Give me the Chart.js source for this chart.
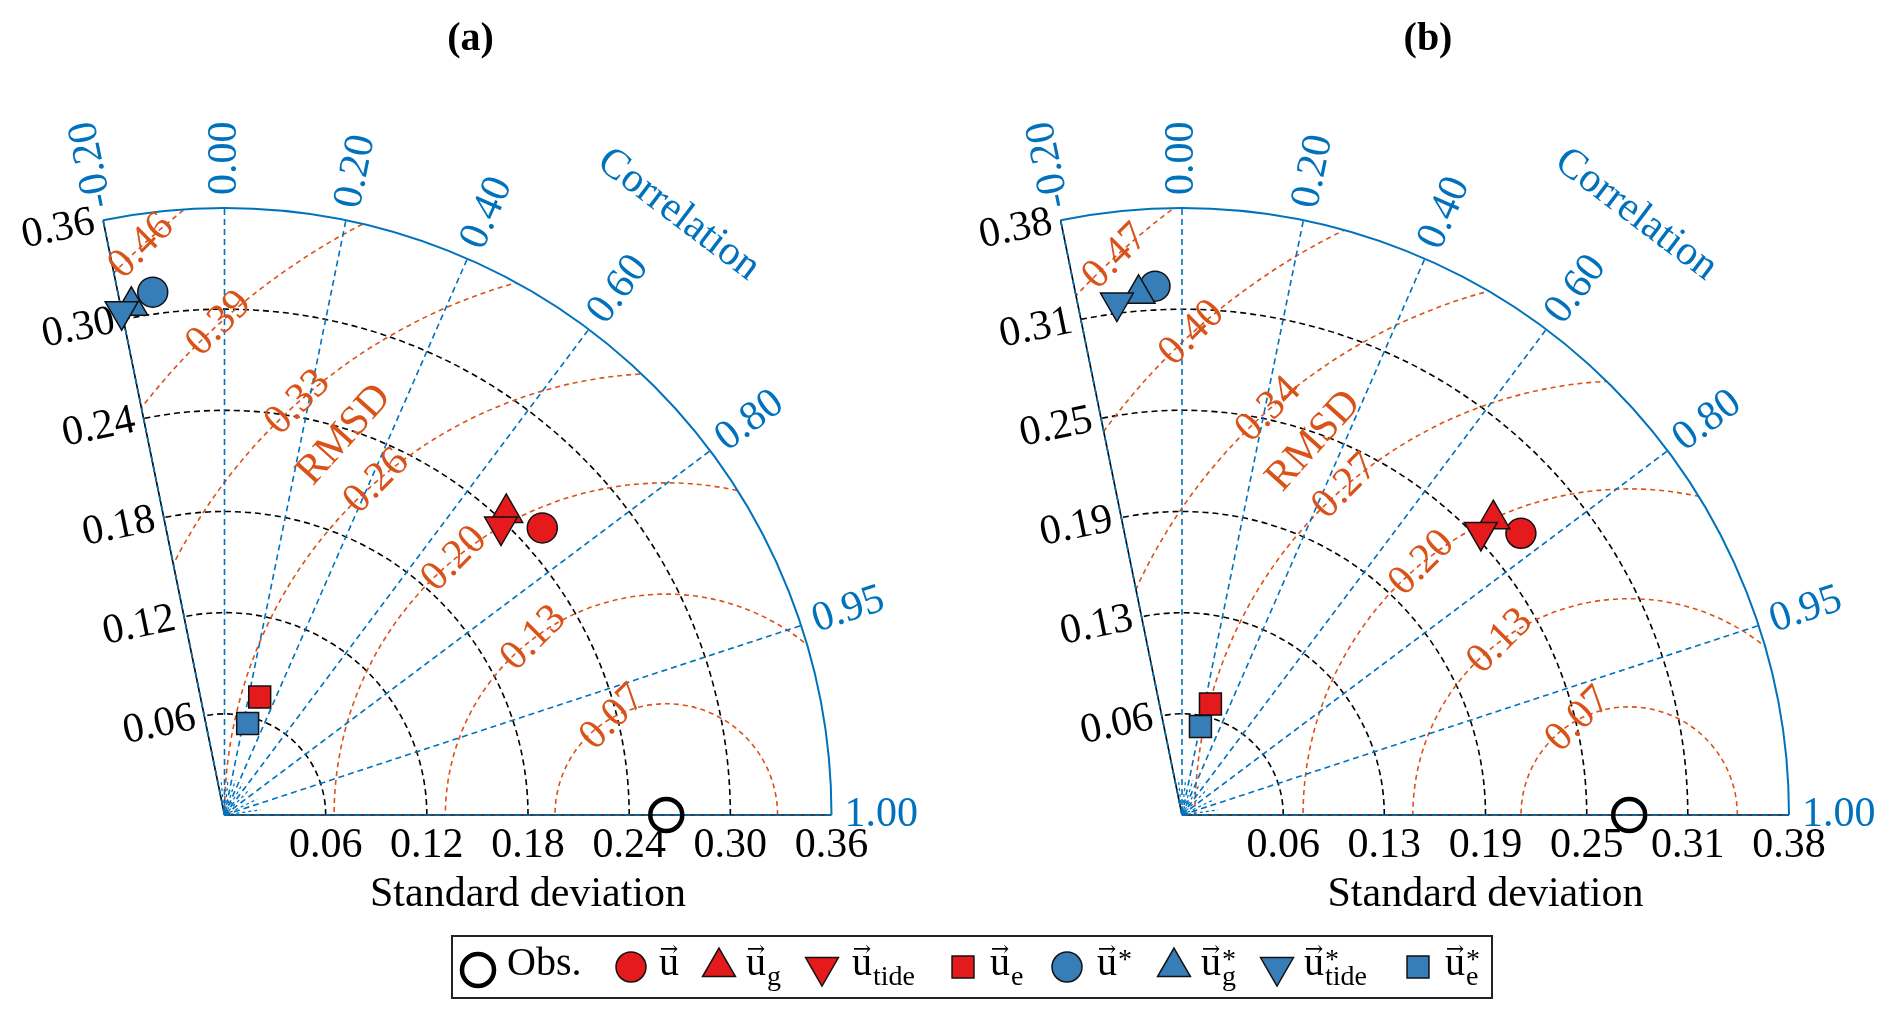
<!DOCTYPE html>
<html><head><meta charset="utf-8">
<script src="https://cdn.jsdelivr.net/npm/chart.js@4.4.1/dist/chart.umd.min.js"></script>
<style>html,body{margin:0;padding:0;background:#fff;overflow:hidden}#wrap{position:relative;width:1892px;height:1018px}</style>
</head><body><div id="wrap"><canvas id="c"></canvas></div>
<script>
// ---------------- data ----------------
const seriesNames = ['Obs.', 'u', 'u_g', 'u_tide', 'u_e', 'u*', 'u_g*', 'u_tide*', 'u_e*'];
// panel (a)
const stdA  = [0.262, 0.254, 0.245, 0.237, 0.073, 0.313, 0.307, 0.305, 0.056];
const corrA = [1.000, 0.742, 0.682, 0.692, 0.286, -0.136, -0.180, -0.200, 0.245];
// panel (b)
const stdB  = [0.277, 0.273, 0.266, 0.255, 0.071, 0.328, 0.324, 0.320, 0.056];
const corrB = [1.000, 0.769, 0.725, 0.726, 0.248, -0.051, -0.083, -0.126, 0.204];
// axes / tick labels
const stdTicksA  = [0.06, 0.12, 0.18, 0.24, 0.30, 0.36];
const stdLabelsA = ['0.06', '0.12', '0.18', '0.24', '0.30', '0.36'];
const stdTicksB  = [0.0627, 0.1253, 0.188, 0.2507, 0.3133, 0.376];
const stdLabelsB = ['0.06', '0.13', '0.19', '0.25', '0.31', '0.38'];
const corrTicks  = [-0.2, 0.0, 0.2, 0.4, 0.6, 0.8, 0.95, 1.0];
const corrLabels = ['-0.20', '0.00', '0.20', '0.40', '0.60', '0.80', '0.95', '1.00'];
const corrMinor  = [-0.1, 0.1, 0.3, 0.5, 0.7, 0.9, 0.99];
const rmsdA       = [0.066, 0.131, 0.197, 0.262, 0.328, 0.394, 0.459];
const rmsdLabelsA = ['0.07', '0.13', '0.20', '0.26', '0.33', '0.39', '0.46'];
const rmsdB       = [0.067, 0.134, 0.202, 0.269, 0.336, 0.403, 0.470];
const rmsdLabelsB = ['0.07', '0.13', '0.20', '0.27', '0.34', '0.40', '0.47'];
// legend text parts
const legendBase = ['Obs.', 'u', 'u', 'u', 'u', 'u', 'u', 'u', 'u'];
const legendSub  = ['', '', 'g', 'tide', 'e', '', 'g', 'tide', 'e'];
const legendSup  = ['', '', '', '', '', '*', '*', '*', '*'];

// ---------------- styles / layout ----------------
const W = 1892, H = 1018;
const RED = '#E41A1C', BLUE = '#377EB8', CBLUE = '#0072BD', ORANGE = '#D95319';
const SERIF = '"Liberation Serif", "Times New Roman", serif';
const markerStyle = [
  {ps:'circle',   rot:0,   r:16,   bg:'rgba(0,0,0,0)', bc:'#000', bw:4.5},
  {ps:'circle',   rot:0,   r:15,   bg:RED,  bc:'#111', bw:1.5},
  {ps:'triangle', rot:0,   r:19,   bg:RED,  bc:'#111', bw:1.5},
  {ps:'triangle', rot:180, r:19,   bg:RED,  bc:'#111', bw:1.5},
  {ps:'rect',     rot:0,   r:15.5, bg:RED,  bc:'#111', bw:1.5},
  {ps:'circle',   rot:0,   r:15,   bg:BLUE, bc:'#111', bw:1.5},
  {ps:'triangle', rot:0,   r:19,   bg:BLUE, bc:'#111', bw:1.5},
  {ps:'triangle', rot:180, r:19,   bg:BLUE, bc:'#111', bw:1.5},
  {ps:'rect',     rot:0,   r:15.5, bg:BLUE, bc:'#111', bw:1.5}
];
const panels = [
  {title:'(a)', ox:224.5, oy:815, rpx:607, xId:'xa', yId:'ya', std:stdA, corr:corrA,
   ticks:stdTicksA, tickLabels:stdLabelsA, rmsd:rmsdA, rmsdLabels:rmsdLabelsA},
  {title:'(b)', ox:1182, oy:815, rpx:607, xId:'xb', yId:'yb', std:stdB, corr:corrB,
   ticks:stdTicksB, tickLabels:stdLabelsB, rmsd:rmsdB, rmsdLabels:rmsdLabelsB}
];

// scales so that each panel origin/radius lands at its layout position
const scales = {};
panels.forEach(P => {
  const rmax = P.ticks[P.ticks.length - 1];
  const u = P.rpx / rmax;
  scales[P.xId] = {type:'linear', axis:'x', position:'bottom', display:false, min:-P.ox / u, max:(W - P.ox) / u};
  scales[P.yId] = {type:'linear', axis:'y', position:'left', display:false, min:-(H - P.oy) / u, max:P.oy / u};
});

const datasets = [];
panels.forEach(P => {
  P.std.forEach((s, i) => {
    const c = P.corr[i], st = markerStyle[i];
    datasets.push({
      label: seriesNames[i], xAxisID: P.xId, yAxisID: P.yId,
      data: [{x: s * c, y: s * Math.sqrt(Math.max(0, 1 - c * c))}],
      pointStyle: st.ps, pointRotation: st.rot, rotation: st.rot, pointRadius: st.r,
      pointBackgroundColor: st.bg, pointBorderColor: st.bc, pointBorderWidth: st.bw,
      showLine: false, clip: false, order: 20 - i
    });
  });
});

function rtext(ctx, txt, x, y, ang, align, base) {
  ctx.save(); ctx.translate(x, y); ctx.rotate(ang);
  ctx.textAlign = align; ctx.textBaseline = base; ctx.fillText(txt, 0, 0); ctx.restore();
}

function drawPanel(chart, ctx, P) {
  const xs = chart.scales[P.xId], ys = chart.scales[P.yId];
  const rmax = P.ticks[P.ticks.length - 1];
  const Ox = xs.getPixelForValue(0), Oy = ys.getPixelForValue(0);
  const R = xs.getPixelForValue(rmax) - Ox;
  const unit = R / rmax;
  const thMax = Math.acos(corrTicks[0]);
  const pol = (r, th) => [xs.getPixelForValue(r * Math.cos(th)), ys.getPixelForValue(r * Math.sin(th))];
  const obs = P.std[0] * P.corr[0];
  const obsX = xs.getPixelForValue(obs), obsY = ys.getPixelForValue(0);

  ctx.save();
  ctx.lineWidth = 1.6;
  // std arcs
  ctx.strokeStyle = '#000'; ctx.setLineDash([6, 4]);
  P.ticks.slice(0, -1).forEach(t => {
    ctx.beginPath(); ctx.arc(Ox, Oy, t * unit, 0, -thMax, true); ctx.stroke();
  });
  // rmsd arcs (clipped to sector)
  ctx.save();
  ctx.beginPath(); ctx.moveTo(Ox, Oy); ctx.arc(Ox, Oy, R, 0, -thMax, true); ctx.closePath(); ctx.clip();
  ctx.strokeStyle = ORANGE; ctx.setLineDash([5, 4]);
  P.rmsd.forEach(r => {
    ctx.beginPath(); ctx.arc(obsX, obsY, r * unit, 0, -Math.PI, true); ctx.stroke();
  });
  ctx.restore();
  // left edge and x axis base lines
  ctx.setLineDash([]); ctx.strokeStyle = '#000'; ctx.lineWidth = 1.6;
  let e = pol(rmax, thMax);
  ctx.beginPath(); ctx.moveTo(Ox, Oy); ctx.lineTo(e[0], e[1]); ctx.stroke();
  ctx.beginPath(); ctx.moveTo(Ox, Oy); ctx.lineTo(Ox + R, Oy); ctx.stroke();
  // correlation lines
  ctx.strokeStyle = CBLUE; ctx.setLineDash([6, 4]); ctx.lineWidth = 1.6;
  corrTicks.forEach(c => {
    const th = Math.acos(c), p = pol(rmax, th);
    ctx.beginPath(); ctx.moveTo(Ox, Oy); ctx.lineTo(p[0], p[1]); ctx.stroke();
  });
  ctx.setLineDash([3, 3]); ctx.lineWidth = 1.2;
  corrMinor.forEach(c => {
    const th = Math.acos(c), p = pol(rmax * 0.06, th);
    ctx.beginPath(); ctx.moveTo(Ox, Oy); ctx.lineTo(p[0], p[1]); ctx.stroke();
  });
  // outer arc
  ctx.setLineDash([]); ctx.lineWidth = 2;
  ctx.beginPath(); ctx.arc(Ox, Oy, R, 0, -thMax, true); ctx.stroke();
  ctx.restore();

  // ---- labels ----
  ctx.save();
  ctx.font = '42px ' + SERIF;
  // x tick labels
  ctx.fillStyle = '#000';
  P.ticks.forEach((t, i) => rtext(ctx, P.tickLabels[i], xs.getPixelForValue(t), Oy + 42, 0, 'center', 'alphabetic'));
  // left edge tick labels
  const nx = -Math.sin(thMax), ny = -Math.cos(thMax); // screen outward normal
  const ang = Math.atan2(-ny, -nx);
  P.ticks.forEach((t, i) => {
    const p = pol(t, thMax);
    rtext(ctx, P.tickLabels[i], p[0] + 9 * nx, p[1] + 9 * ny, ang, 'right', 'middle');
  });
  // axis title
  rtext(ctx, 'Standard deviation', Ox + R / 2, Oy + 91, 0, 'center', 'alphabetic');
  // panel title
  ctx.font = 'bold 40px ' + SERIF;
  rtext(ctx, P.title, Ox + 246, 50, 0, 'center', 'alphabetic');
  // correlation labels
  ctx.font = '42px ' + SERIF;
  ctx.fillStyle = CBLUE;
  corrTicks.forEach((c, i) => {
    const th = Math.acos(c);
    const x = Ox + (R + 13) * Math.cos(th), y = Oy - (R + 13) * Math.sin(th);
    rtext(ctx, corrLabels[i], x, y, -th, 'left', 'middle');
  });
  {
    const th = 52.9 * Math.PI / 180, rr = R * 1.24;
    rtext(ctx, 'Correlation', Ox + rr * Math.cos(th), Oy - rr * Math.sin(th), Math.PI / 2 - th, 'center', 'middle');
  }
  // rmsd labels along the line x + y = 1.1*obs
  ctx.fillStyle = ORANGE;
  const d = 0.1 * obs;
  const onLine = r => { const u = (d - Math.sqrt(2 * r * r - d * d)) / 2; return [obs + u, d - u]; };
  P.rmsd.forEach((r, i) => {
    const q = onLine(r);
    rtext(ctx, P.rmsdLabels[i], xs.getPixelForValue(q[0]), ys.getPixelForValue(q[1]), -Math.PI / 4, 'center', 'middle');
  });
  {
    const q = onLine((P.rmsd[3] + P.rmsd[4]) / 2);
    rtext(ctx, 'RMSD', xs.getPixelForValue(q[0]) + 7, ys.getPixelForValue(q[1]) - 7, -48 * Math.PI / 180, 'center', 'middle');
  }
  ctx.restore();
}

function drawMarker(ctx, st, x, y) {
  ctx.save();
  ctx.beginPath();
  const r = st.r;
  if (st.ps === 'circle') {
    ctx.arc(x, y, r, 0, 2 * Math.PI);
  } else if (st.ps === 'rect') {
    const s = r * Math.SQRT1_2; ctx.rect(x - s, y - s, 2 * s, 2 * s);
  } else {
    let a = st.rot * Math.PI / 180;
    ctx.moveTo(x + Math.sin(a) * r, y - Math.cos(a) * r);
    a += 2 * Math.PI / 3; ctx.lineTo(x + Math.sin(a) * r, y - Math.cos(a) * r);
    a += 2 * Math.PI / 3; ctx.lineTo(x + Math.sin(a) * r, y - Math.cos(a) * r);
    ctx.closePath();
  }
  ctx.fillStyle = st.bg; ctx.fill();
  ctx.lineWidth = st.bw; ctx.strokeStyle = st.bc; ctx.stroke();
  ctx.restore();
}

function drawLegend(ctx) {
  ctx.save();
  ctx.fillStyle = '#fff'; ctx.fillRect(452, 936, 1040, 62);
  ctx.strokeStyle = '#222'; ctx.lineWidth = 2; ctx.strokeRect(452, 936, 1040, 62);
  const markerX = [478, 631, 719, 822, 963, 1067, 1174, 1277, 1418];
  const textX   = [507, 659, 746, 852, 990, 1097, 1201, 1304, 1445];
  const cy = 967, base = 975;
  seriesNames.forEach((n, i) => {
    drawMarker(ctx, markerStyle[i], markerX[i], i === 0 ? 970 : cy);
    ctx.fillStyle = '#000'; ctx.textAlign = 'left'; ctx.textBaseline = 'alphabetic';
    ctx.font = '40px ' + SERIF;
    const b = legendBase[i];
    ctx.fillText(b, textX[i], base);
    const bw = ctx.measureText(b).width;
    if (i > 0) {
      ctx.font = '22px "DejaVu Serif", serif';
      ctx.textAlign = 'center';
      ctx.fillText('\u2192', textX[i] + bw / 2, 956);
      ctx.textAlign = 'left';
      if (legendSub[i]) { ctx.font = '28px ' + SERIF; ctx.fillText(legendSub[i], textX[i] + bw + 1, base + 10); }
      if (legendSup[i]) { ctx.font = '28px ' + SERIF; ctx.fillText(legendSup[i], textX[i] + bw + 1, 968); }
    }
  });
  ctx.restore();
}

const taylorPlugin = {
  id: 'taylor',
  beforeDatasetsDraw(chart) { panels.forEach(P => drawPanel(chart, chart.ctx, P)); },
  afterDraw(chart) { drawLegend(chart.ctx); }
};

new Chart(document.getElementById('c'), {
  type: 'scatter',
  data: {datasets},
  options: {
    responsive: true, maintainAspectRatio: false, animation: false, events: [],
    layout: {padding: 0, autoPadding: false},
    plugins: {legend: {display: false}, tooltip: {enabled: false}, title: {display: false}},
    scales
  },
  plugins: [taylorPlugin]
});
</script>
</body></html>
